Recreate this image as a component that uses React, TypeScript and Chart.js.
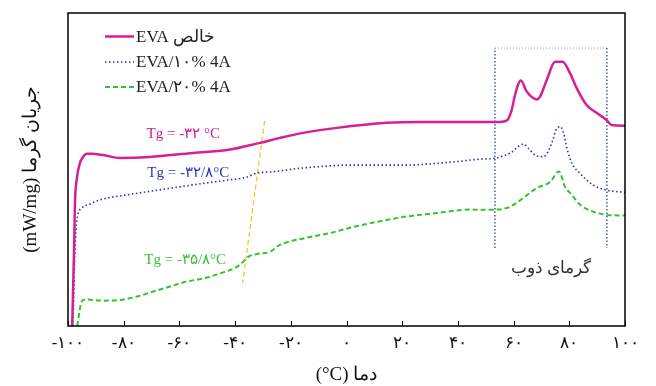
import React, { useEffect, useRef } from "react";
import { Chart, registerables } from "chart.js";

Chart.register(...registerables);

// ---- data (temperature °C, heat flow in arbitrary mW/mg units) ----
const pureTemp = [-98.5, -97.8, -97.5, -96.9, -95.7, -94.6, -93.3, -91.5, -87.4, -81.3, -70.6, -55.1, -42.9, -31.1, -23.9, -15.6, -3.4, 14.5, 26.4, 55.1, 57.5, 59.3, 60.5, 62.6, 64.7, 68.3, 69.5, 71.9, 74.9, 77.6, 80.3, 82.7, 86.2, 89.8, 93.4, 95.2, 100];
const pureFlow = [0, 2.52, 3.93, 4.66, 5.21, 5.4, 5.5, 5.5, 5.46, 5.37, 5.4, 5.53, 5.62, 5.85, 6.01, 6.17, 6.33, 6.49, 6.52, 6.52, 6.56, 6.9, 7.38, 7.84, 7.49, 7.24, 7.33, 7.86, 8.44, 8.44, 8.07, 7.59, 7.06, 6.81, 6.58, 6.42, 6.4];

const tenTemp = [-98.2, -97.5, -96.8, -95.0, -92.1, -88.5, -78.8, -67.0, -55.1, -42.9, -35.7, -32.1, -27.5, -15.6, 2.3, 20.3, 38.2, 47.9, 53.3, 58.7, 63.5, 65.3, 67.7, 70.7, 73.7, 75.2, 76.7, 77.8, 79.3, 80.9, 83.8, 88.6, 93.4, 100];
const tenFlow = [0, 2.43, 3.39, 3.77, 3.9, 4.03, 4.19, 4.35, 4.51, 4.66, 4.76, 4.89, 4.92, 5.05, 5.14, 5.14, 5.24, 5.33, 5.36, 5.52, 5.81, 5.68, 5.46, 5.41, 5.84, 6.26, 6.37, 6.21, 5.62, 5.2, 4.88, 4.5, 4.34, 4.27];

const twentyTemp = [-96.7, -95.1, -93.9, -87.3, -81.3, -75.3, -69.4, -63.4, -57.4, -51.4, -45.4, -39.4, -37.1, -35.3, -32.2, -27.5, -23.9, -14.9, -5.9, 2.3, 20.3, 32.5, 44.3, 47.9, 54.0, 57.6, 60.5, 63.4, 68.4, 73.1, 76.3, 78.5, 80.3, 83.9, 87.5, 93.5, 100];
const twentyFlow = [0, 0.78, 0.85, 0.81, 0.83, 0.94, 1.1, 1.26, 1.42, 1.52, 1.68, 1.89, 2.05, 2.21, 2.3, 2.37, 2.59, 2.81, 2.97, 3.16, 3.48, 3.61, 3.72, 3.71, 3.72, 3.77, 3.9, 4.09, 4.41, 4.6, 4.94, 4.44, 4.25, 3.87, 3.69, 3.55, 3.53];

// Tg tangent (yellow) line
const tgLineTemp = [-29.4, -37.3];
const tgLineFlow = [6.55, 1.37];

// melting region box
const meltTemp = [53.3, 93.5];
const meltFlow = [2.49, 8.88];

const seriesLabels = ["EVA خالص", "EVA/۱۰% 4A", "EVA/۲۰% 4A"];
const tgLabels = ["Tg = -۳۲ °C", "Tg = -۳۲/۸°C", "Tg = -۳۵/۸°C"];
const tgLabelTemp = [-71.8, -71.5, -72.6];
const tgLabelFlow = [6.13, 4.89, 2.11];
const meltLabel = "گرمای ذوب";
const meltLabelTemp = 73.4;
const meltLabelFlow = 1.85;

const xTitle = "(°C) دما";
const yTitle = "(mW/mg) جریان گرما";

const FAMILY = '"Liberation Serif", "DejaVu Serif", "Times New Roman", serif';
const COLORS = ["#d81e96", "#2c35a8", "#2ec52e"];
const TEXT_COLORS = ["#c8208f", "#2b3ab8", "#3cbf3c"];
const DASHES = [[], [1.5, 2.5], [5, 3]];
const WIDTHS = [2.5, 1.6, 2];

const toFa = (s: string) => s.replace(/[0-9]/g, (d) => "۰۱۲۳۴۵۶۷۸۹"[+d]);
const zip = (xs: number[], ys: (number | null)[]) => xs.map((x, i) => ({ x, y: ys[i] }));

const overlay = {
  id: "overlay",
  afterDraw(chart: any) {
    const { ctx, chartArea: a, scales } = chart;
    const x = scales.x;
    const y = scales.y;
    ctx.save();
    // inward tick marks on bottom axis
    ctx.strokeStyle = "#000";
    ctx.lineWidth = 1;
    ctx.setLineDash([]);
    x.ticks.forEach((t: any) => {
      const px = Math.round(x.getPixelForValue(t.value)) + 0.5;
      ctx.beginPath();
      ctx.moveTo(px, a.bottom);
      ctx.lineTo(px, a.bottom - 5);
      ctx.stroke();
    });
    // frame
    ctx.lineWidth = 1.5;
    ctx.strokeRect(a.left, a.top, a.right - a.left, a.bottom - a.top);

    // legend
    const lx = a.left + 37;
    const rows = [a.top + 23.5, a.top + 49, a.top + 74];
    seriesLabels.forEach((lab, i) => {
      ctx.strokeStyle = COLORS[i];
      ctx.lineWidth = WIDTHS[i];
      ctx.setLineDash(DASHES[i]);
      ctx.beginPath();
      ctx.moveTo(lx, rows[i]);
      ctx.lineTo(lx + 29, rows[i]);
      ctx.stroke();
      ctx.setLineDash([]);
      ctx.fillStyle = "#222";
      ctx.font = `17px ${FAMILY}`;
      ctx.textBaseline = "middle";
      ctx.textAlign = "left";
      ctx.fillText(lab, lx + 31, rows[i] + 1);
    });

    // Tg labels
    ctx.font = `15px ${FAMILY}`;
    ctx.textAlign = "left";
    ctx.textBaseline = "middle";
    tgLabels.forEach((lab, i) => {
      ctx.fillStyle = TEXT_COLORS[i];
      ctx.fillText(lab, x.getPixelForValue(tgLabelTemp[i]), y.getPixelForValue(tgLabelFlow[i]));
    });

    // melting label
    ctx.font = `17px ${FAMILY}`;
    ctx.fillStyle = "#333";
    ctx.textAlign = "center";
    ctx.fillText(meltLabel, x.getPixelForValue(meltLabelTemp), y.getPixelForValue(meltLabelFlow));
    ctx.restore();
  },
};

export default function App() {
  const ref = useRef<HTMLCanvasElement | null>(null);
  useEffect(() => {
    if (!ref.current) return;
    const base = { pointRadius: 0, fill: false, cubicInterpolationMode: "monotone" as const };
    const chart = new Chart(ref.current, {
      type: "line",
      data: {
        datasets: [
          { ...base, label: seriesLabels[0], data: zip(pureTemp, pureFlow), borderColor: COLORS[0], borderWidth: WIDTHS[0], borderDash: DASHES[0] },
          { ...base, label: seriesLabels[1], data: zip(tenTemp, tenFlow), borderColor: COLORS[1], borderWidth: WIDTHS[1], borderDash: DASHES[1] },
          { ...base, label: seriesLabels[2], data: zip(twentyTemp, twentyFlow), borderColor: COLORS[2], borderWidth: WIDTHS[2], borderDash: DASHES[2] },
          { ...base, label: "tg", data: zip(tgLineTemp, tgLineFlow), borderColor: "#f2c318", borderWidth: 1.2, borderDash: [5, 3], cubicInterpolationMode: "default", tension: 0 },
          {
            ...base, label: "melt-sides",
            data: [
              { x: meltTemp[0], y: meltFlow[0] }, { x: meltTemp[0], y: meltFlow[1] },
              { x: (meltTemp[0] + meltTemp[1]) / 2, y: null },
              { x: meltTemp[1], y: meltFlow[1] }, { x: meltTemp[1], y: meltFlow[0] },
            ],
            spanGaps: false, borderColor: "#20469a", borderWidth: 1.3, borderDash: [1.5, 2], cubicInterpolationMode: "default", tension: 0,
          },
          {
            ...base, label: "melt-top",
            data: [{ x: meltTemp[0], y: meltFlow[1] }, { x: meltTemp[1], y: meltFlow[1] }],
            borderColor: "#8a9ac0", borderWidth: 1, borderDash: [1, 2], cubicInterpolationMode: "default", tension: 0,
          },
        ],
      },
      options: {
        responsive: false,
        animation: false,
        events: [],
        layout: { padding: { top: 13, right: 31, left: 0, bottom: 0 } },
        plugins: { legend: { display: false }, tooltip: { enabled: false } },
        scales: {
          x: {
            type: "linear",
            min: -100,
            max: 100,
            ticks: {
              stepSize: 20,
              autoSkip: false,
              maxRotation: 0,
              padding: 7,
              color: "#111",
              font: { family: FAMILY, size: 17 },
              callback: (v: any) => toFa(String(v)),
            },
            grid: { display: false, drawTicks: false },
            border: { display: false },
            title: { display: true, text: xTitle, color: "#111", font: { family: FAMILY, size: 19 }, padding: 0 },
            afterFit: (s: any) => { s.height = 60; },
          },
          y: {
            type: "linear",
            min: 0,
            max: 10,
            ticks: { display: false },
            grid: { display: false, drawTicks: false },
            border: { display: false },
            title: { display: true, text: yTitle, color: "#111", font: { family: FAMILY, size: 19 }, padding: { top: 20, bottom: 0 } },
            afterFit: (s: any) => { s.width = 68; },
          },
        },
      },
      plugins: [overlay],
    } as any);
    return () => chart.destroy();
  }, []);
  return (
    <div style={{ position: "fixed", left: 0, top: 0, width: 656, height: 386, background: "#fff" }}>
      <canvas ref={ref} width={656} height={386} style={{ display: "block" }} />
    </div>
  );
}
